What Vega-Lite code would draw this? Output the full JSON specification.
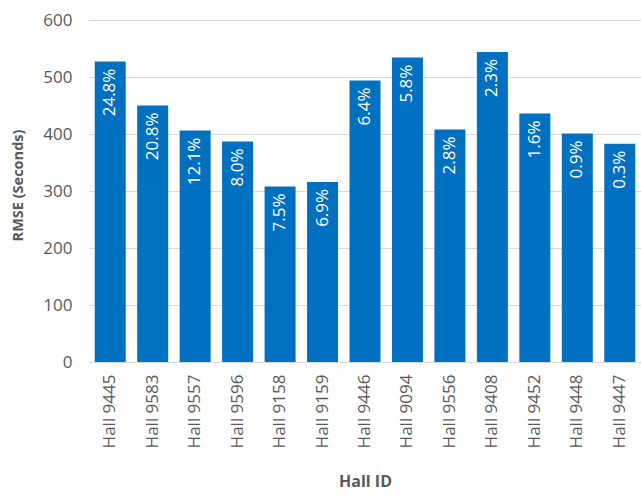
{
  "$schema": "https://vega.github.io/schema/vega-lite/v6.json",
  "autosize": "none",
  "padding": {"left": 89, "top": 20, "right": 0, "bottom": 134},
  "width": 552,
  "height": 342,
  "background": "white",
  "config": {
    "view": {"stroke": null},
    "font": "Open Sans",
    "axis": {
      "labelColor": "#595959",
      "titleColor": "#595959",
      "gridColor": "#D9D9D9",
      "domainColor": "#D9D9D9",
      "ticks": false
    }
  },
  "data": {
    "values": [
      {"hall": "Hall 9445", "rmse": 527, "pct": "24.8%"},
      {"hall": "Hall 9583", "rmse": 450, "pct": "20.8%"},
      {"hall": "Hall 9557", "rmse": 406, "pct": "12.1%"},
      {"hall": "Hall 9596", "rmse": 387, "pct": "8.0%"},
      {"hall": "Hall 9158", "rmse": 308, "pct": "7.5%"},
      {"hall": "Hall 9159", "rmse": 316, "pct": "6.9%"},
      {"hall": "Hall 9446", "rmse": 494, "pct": "6.4%"},
      {"hall": "Hall 9094", "rmse": 534, "pct": "5.8%"},
      {"hall": "Hall 9556", "rmse": 408, "pct": "2.8%"},
      {"hall": "Hall 9408", "rmse": 544, "pct": "2.3%"},
      {"hall": "Hall 9452", "rmse": 436, "pct": "1.6%"},
      {"hall": "Hall 9448", "rmse": 401, "pct": "0.9%"},
      {"hall": "Hall 9447", "rmse": 383, "pct": "0.3%"}
    ]
  },
  "encoding": {
    "x": {
      "field": "hall",
      "type": "nominal",
      "sort": null,
      "scale": {"paddingInner": 0.27, "paddingOuter": 0.135},
      "axis": {
        "title": "Hall ID",
        "titleFontSize": 16,
        "titleFontWeight": "bold",
        "titlePadding": 26,
        "labelAngle": -90,
        "labelAlign": "right",
        "labelBaseline": "middle",
        "labelFontSize": 17,
        "labelPadding": 12,
        "domain": true,
        "grid": false
      }
    },
    "y": {
      "field": "rmse",
      "type": "quantitative",
      "scale": {"domain": [0, 600]},
      "axis": {
        "title": "RMSE (Seconds)",
        "titleFontSize": 14.5,
        "titleFontWeight": "bold",
        "titlePadding": 17,
        "titleY": 165,
        "labelFontSize": 17,
        "labelPadding": 17,
        "labelOverlap": false,
        "values": [0, 100, 200, 300, 400, 500, 600],
        "domain": false,
        "grid": true
      }
    }
  },
  "layer": [
    {"mark": {"type": "bar", "color": "#0070C0"}},
    {
      "mark": {
        "type": "text",
        "angle": 270,
        "align": "right",
        "baseline": "middle",
        "dx": -7,
        "color": "white",
        "fontSize": 17
      },
      "encoding": {"text": {"field": "pct"}}
    }
  ]
}
